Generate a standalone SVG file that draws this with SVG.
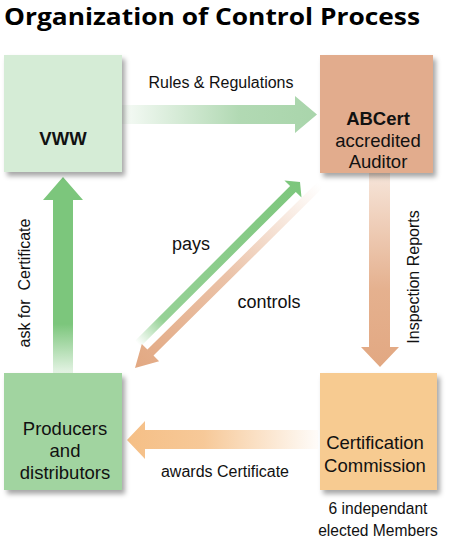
<svg xmlns="http://www.w3.org/2000/svg" width="449" height="540" viewBox="0 0 449 540">
<style>
.t{font-family:"Liberation Sans",Arial,sans-serif;fill:#111;}
.lbl{font-size:16px;}
.node{font-size:18.5px;text-anchor:middle;}
.b{font-weight:bold;}
</style>
<defs>
<filter id="sh" x="-10%" y="-10%" width="130%" height="130%">
<feDropShadow dx="3" dy="4" stdDeviation="2.5" flood-color="#000" flood-opacity="0.35"/>
</filter>
<linearGradient id="gRules" x1="122" y1="0" x2="317" y2="0" gradientUnits="userSpaceOnUse">
<stop offset="0" stop-color="#a9d5ab" stop-opacity="0.1"/>
<stop offset="0.6" stop-color="#a9d5ab" stop-opacity="0.9"/>
<stop offset="1" stop-color="#a9d5ab"/>
</linearGradient>
<linearGradient id="gAwards" x1="127" y1="0" x2="318" y2="0" gradientUnits="userSpaceOnUse">
<stop offset="0" stop-color="#f5bf86"/>
<stop offset="0.4" stop-color="#f5bf86" stop-opacity="0.85"/>
<stop offset="1" stop-color="#f5bf86" stop-opacity="0.05"/>
</linearGradient>
<linearGradient id="gAsk" x1="0" y1="177" x2="0" y2="373" gradientUnits="userSpaceOnUse">
<stop offset="0" stop-color="#7cc67c"/>
<stop offset="0.75" stop-color="#7cc67c"/>
<stop offset="1" stop-color="#7cc67c" stop-opacity="0.2"/>
</linearGradient>
<linearGradient id="gInsp" x1="0" y1="173" x2="0" y2="367" gradientUnits="userSpaceOnUse">
<stop offset="0" stop-color="#e2a882" stop-opacity="0.3"/>
<stop offset="0.6" stop-color="#e2a882" stop-opacity="0.9"/>
<stop offset="1" stop-color="#e2a882"/>
</linearGradient>
<linearGradient id="gPays" x1="137" y1="343" x2="300" y2="182" gradientUnits="userSpaceOnUse">
<stop offset="0" stop-color="#7cc67c" stop-opacity="0"/>
<stop offset="0.15" stop-color="#7cc67c" stop-opacity="0.8"/>
<stop offset="1" stop-color="#7cc67c"/>
</linearGradient>
<linearGradient id="gCtrl" x1="320" y1="185" x2="135" y2="368" gradientUnits="userSpaceOnUse">
<stop offset="0" stop-color="#e2a882" stop-opacity="0"/>
<stop offset="0.5" stop-color="#e2a882" stop-opacity="0.7"/>
<stop offset="1" stop-color="#e2a882"/>
</linearGradient>
</defs>

<text x="4" y="25" font-family="'Open Sans','Noto Sans',sans-serif" font-weight="bold" font-size="23" textLength="416" lengthAdjust="spacingAndGlyphs" fill="#000">Organization of Control Process</text>

<g id="connectors">
<path d="M122,105 H295 V96 L317,114.5 L295,133 V124 H122 Z" fill="url(#gRules)"/>
<path d="M318,430 H145 V421 L127,440 L145,459 V449 H318 Z" fill="url(#gAwards)"/>
<path d="M53,373 V200 H43 L63,177 L83,200 H73 V373 Z" fill="url(#gAsk)"/>
<path d="M369,173 V347 H361 L380,367 L399,347 H390 V173 Z" fill="url(#gInsp)"/>
<path d="M134.9,340.9 L290.1,186.1 L284.4,180.5 L300,182 L301.5,197.6 L295.8,191.9 L140.6,346.6 Z" fill="url(#gPays)"/>
<path d="M322.8,187.8 L153.5,355.6 L159.1,361.3 L135,368 L141.8,344 L147.4,349.6 L317.2,182.2 Z" fill="url(#gCtrl)"/>
<text class="t lbl" x="221" y="88" text-anchor="middle">Rules &amp; Regulations</text>
<text class="t lbl" x="225" y="477" text-anchor="middle">awards Certificate</text>
<text class="t" font-size="18" x="191" y="250" text-anchor="middle">pays</text>
<text class="t" font-size="18" x="269" y="308" text-anchor="middle">controls</text>
<text class="t lbl" xml:space="preserve" style="white-space:pre" transform="translate(30,283) rotate(-90)" text-anchor="middle">ask for  Certificate</text>
<text class="t lbl" transform="translate(419,277) rotate(-90)" text-anchor="middle">Inspection Reports</text>
</g>

<g id="vww">
<rect x="4" y="55" width="118" height="117" fill="#d5ecd6" filter="url(#sh)"/>
<text class="t node b" x="63" y="145">VWW</text>
</g>
<g id="abcert">
<rect x="320" y="55" width="113" height="118" fill="#e2ac8d" filter="url(#sh)"/>
<text class="t node b" x="378" y="125">ABCert</text>
<text class="t node" x="378" y="147">accredited</text>
<text class="t node" x="378" y="168">Auditor</text>
</g>
<g id="producers">
<rect x="4" y="373" width="118" height="117" fill="#a1d4a0" filter="url(#sh)"/>
<text class="t node" x="65" y="435">Producers</text>
<text class="t node" x="65" y="457">and</text>
<text class="t node" x="65" y="479">distributors</text>
</g>
<g id="commission">
<rect x="320" y="373" width="117" height="117" fill="#f7cb91" filter="url(#sh)"/>
<text class="t node" x="375" y="449">Certification</text>
<text class="t node" x="375" y="472">Commission</text>
<text class="t" font-size="15.6" x="378" y="514" text-anchor="middle">6 independant</text>
<text class="t" font-size="15.6" x="378" y="536" text-anchor="middle">elected Members</text>
</g>
</svg>
